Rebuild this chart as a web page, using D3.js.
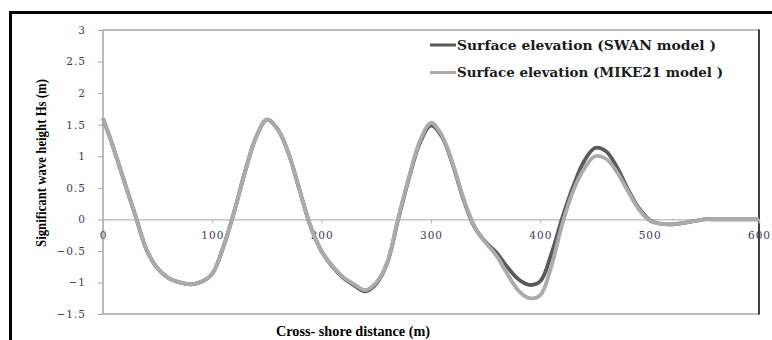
<!DOCTYPE html>
<html>
<head>
<meta charset="utf-8">
<script src="https://cdn.jsdelivr.net/npm/d3@7"></script>
<style>
  body { margin: 0; background: #fff; }
  svg { display: block; }
</style>
</head>
<body>
<div id="chart"></div>
<script>
// cross-shore distance (m)
const distance = [0, 10, 20, 30, 40, 50, 60, 70, 80, 90, 100, 110, 120, 130, 140, 150, 160, 170, 180, 190,
    200, 210, 220, 230, 240, 250, 260, 270, 280, 290, 300, 310, 320, 330, 340, 350, 360, 370, 380, 390,
    400, 410, 420, 430, 440, 450, 460, 470, 480, 490, 500, 510, 520, 530, 540, 550, 560, 580, 600];

// surface elevation
const swanValues = [1.60, 1.11, 0.57, 0.04, -0.49, -0.78, -0.93, -1.00, -1.03, -0.99, -0.86, -0.44, 0.12, 0.76, 1.30, 1.58, 1.42, 1.03, 0.45, -0.12,
    -0.51, -0.75, -0.93, -1.05, -1.14, -1.02, -0.69, 0.00, 0.66, 1.22, 1.49, 1.31, 0.86, 0.30, -0.13, -0.36, -0.53, -0.76, -0.95, -1.04,
    -0.98, -0.55, 0.02, 0.52, 0.92, 1.13, 1.08, 0.83, 0.48, 0.18, -0.01, -0.07, -0.08, -0.06, -0.03, 0.00, 0.00, 0.00, 0.00];

const mikeValues = [1.60, 1.11, 0.57, 0.04, -0.49, -0.78, -0.93, -1.00, -1.03, -0.99, -0.86, -0.44, 0.12, 0.76, 1.30, 1.58, 1.42, 1.03, 0.45, -0.12,
    -0.51, -0.74, -0.92, -1.03, -1.12, -1.00, -0.68, 0.02, 0.68, 1.25, 1.53, 1.33, 0.88, 0.32, -0.12, -0.37, -0.58, -0.87, -1.13, -1.25,
    -1.20, -0.75, -0.08, 0.45, 0.80, 1.00, 0.96, 0.75, 0.45, 0.16, -0.02, -0.07, -0.08, -0.06, -0.03, 0.00, 0.00, 0.00, 0.00];

const xTicks = [0, 100, 200, 300, 400, 500, 600];
const yTicks = [-1.5, -1, -0.5, 0, 0.5, 1, 1.5, 2, 2.5, 3];
const seriesNames = ['Surface elevation (SWAN model )', 'Surface elevation (MIKE21 model )'];

const width = 772, height = 340;
const plot = { left: 103, right: 759, top: 30, bottom: 314 };

const svg = d3.select('#chart').append('svg')
    .attr('width', width)
    .attr('height', height);

// outer frame (only left and top edges are in view)
svg.append('path')
    .attr('d', `M10.5,${height} V12.5 H${width}`)
    .attr('fill', 'none')
    .attr('stroke', '#000')
    .attr('stroke-width', 3);

const x = d3.scaleLinear().domain([0, 600]).range([plot.left, plot.right]);
const y = d3.scaleLinear().domain([-1.5, 3]).range([plot.bottom, plot.top]);

// plot frame
svg.append('path')
    .attr('d', `M${plot.right},${plot.bottom} H${plot.left} V${plot.top} H${plot.right}`)
    .attr('fill', 'none')
    .attr('stroke', '#a6a6a6')
    .attr('stroke-width', 1.5);
svg.append('line')
    .attr('x1', plot.right).attr('x2', plot.right)
    .attr('y1', plot.top - 0.5).attr('y2', plot.bottom + 0.5)
    .attr('stroke', '#000')
    .attr('stroke-width', 1.5);

// y axis
const yAxis = svg.append('g')
    .attr('transform', `translate(${plot.left},0)`)
    .call(d3.axisLeft(y).tickValues(yTicks).tickSize(5).tickPadding(12)
        .tickFormat(d => d3.format('')(d)));
yAxis.select('.domain').remove();
yAxis.selectAll('line').attr('stroke', '#a6a6a6').attr('stroke-width', 1);
yAxis.selectAll('text')
    .attr('fill', '#3b3b55')
    .style('font-family', '"DejaVu Serif", serif')
    .style('font-size', '10.5px')
    .style('letter-spacing', '1px');

// x axis sits on the zero line
const xAxis = svg.append('g')
    .attr('transform', `translate(0,${y(0)})`)
    .call(d3.axisBottom(x).tickValues(xTicks).tickSize(4).tickPadding(8));
xAxis.select('.domain')
    .attr('stroke', '#c4c4c4')
    .attr('stroke-width', 1.5);
xAxis.selectAll('line').attr('stroke', '#b0b0b0');
xAxis.selectAll('text')
    .attr('fill', '#3b3b55')
    .style('font-family', '"DejaVu Serif", serif')
    .style('font-size', '10.5px')
    .style('letter-spacing', '1px');

// lines
const swanData = distance.map((d, i) => ({ x: d, y: swanValues[i] }));
const mikeData = distance.map((d, i) => ({ x: d, y: mikeValues[i] }));

const line = d3.line()
    .x(d => x(d.x))
    .y(d => y(d.y))
    .curve(d3.curveCatmullRom.alpha(0.5));

svg.append('path')
    .datum(swanData)
    .attr('fill', 'none')
    .attr('stroke', '#5a5a5a')
    .attr('stroke-width', 3.8)
    .attr('d', line);

svg.append('path')
    .datum(mikeData)
    .attr('fill', 'none')
    .attr('stroke', '#ababab')
    .attr('stroke-width', 3.8)
    .attr('d', line);

// legend
const legendColors = ['#5a5a5a', '#ababab'];
const legendLengths = [259, 266];
const legend = svg.append('g');
seriesNames.forEach((name, i) => {
    const ly = 45 + i * 27.5;
    legend.append('line')
        .attr('x1', 430).attr('x2', 456)
        .attr('y1', ly).attr('y2', ly)
        .attr('stroke', legendColors[i])
        .attr('stroke-width', 3);
    legend.append('text')
        .attr('x', 457)
        .attr('y', ly + 4.5)
        .attr('fill', '#1a1a1a')
        .attr('textLength', legendLengths[i])
        .attr('lengthAdjust', 'spacingAndGlyphs')
        .style('font-family', '"DejaVu Serif", serif')
        .style('font-weight', 'bold')
        .style('font-size', '12px')
        .text(name);
});

// axis titles
svg.append('text')
    .attr('transform', `translate(46,163) rotate(-90)`)
    .attr('text-anchor', 'middle')
    .attr('textLength', 168)
    .attr('lengthAdjust', 'spacingAndGlyphs')
    .style('font-family', '"Liberation Serif", serif')
    .style('font-weight', 'bold')
    .style('font-size', '14px')
    .text('Significant wave height Hs (m)');

svg.append('text')
    .attr('x', 353)
    .attr('y', 336)
    .attr('text-anchor', 'middle')
    .attr('textLength', 154)
    .attr('lengthAdjust', 'spacingAndGlyphs')
    .style('font-family', '"Liberation Serif", serif')
    .style('font-weight', 'bold')
    .style('font-size', '14px')
    .text('Cross- shore distance (m)');
</script>
</body>
</html>
